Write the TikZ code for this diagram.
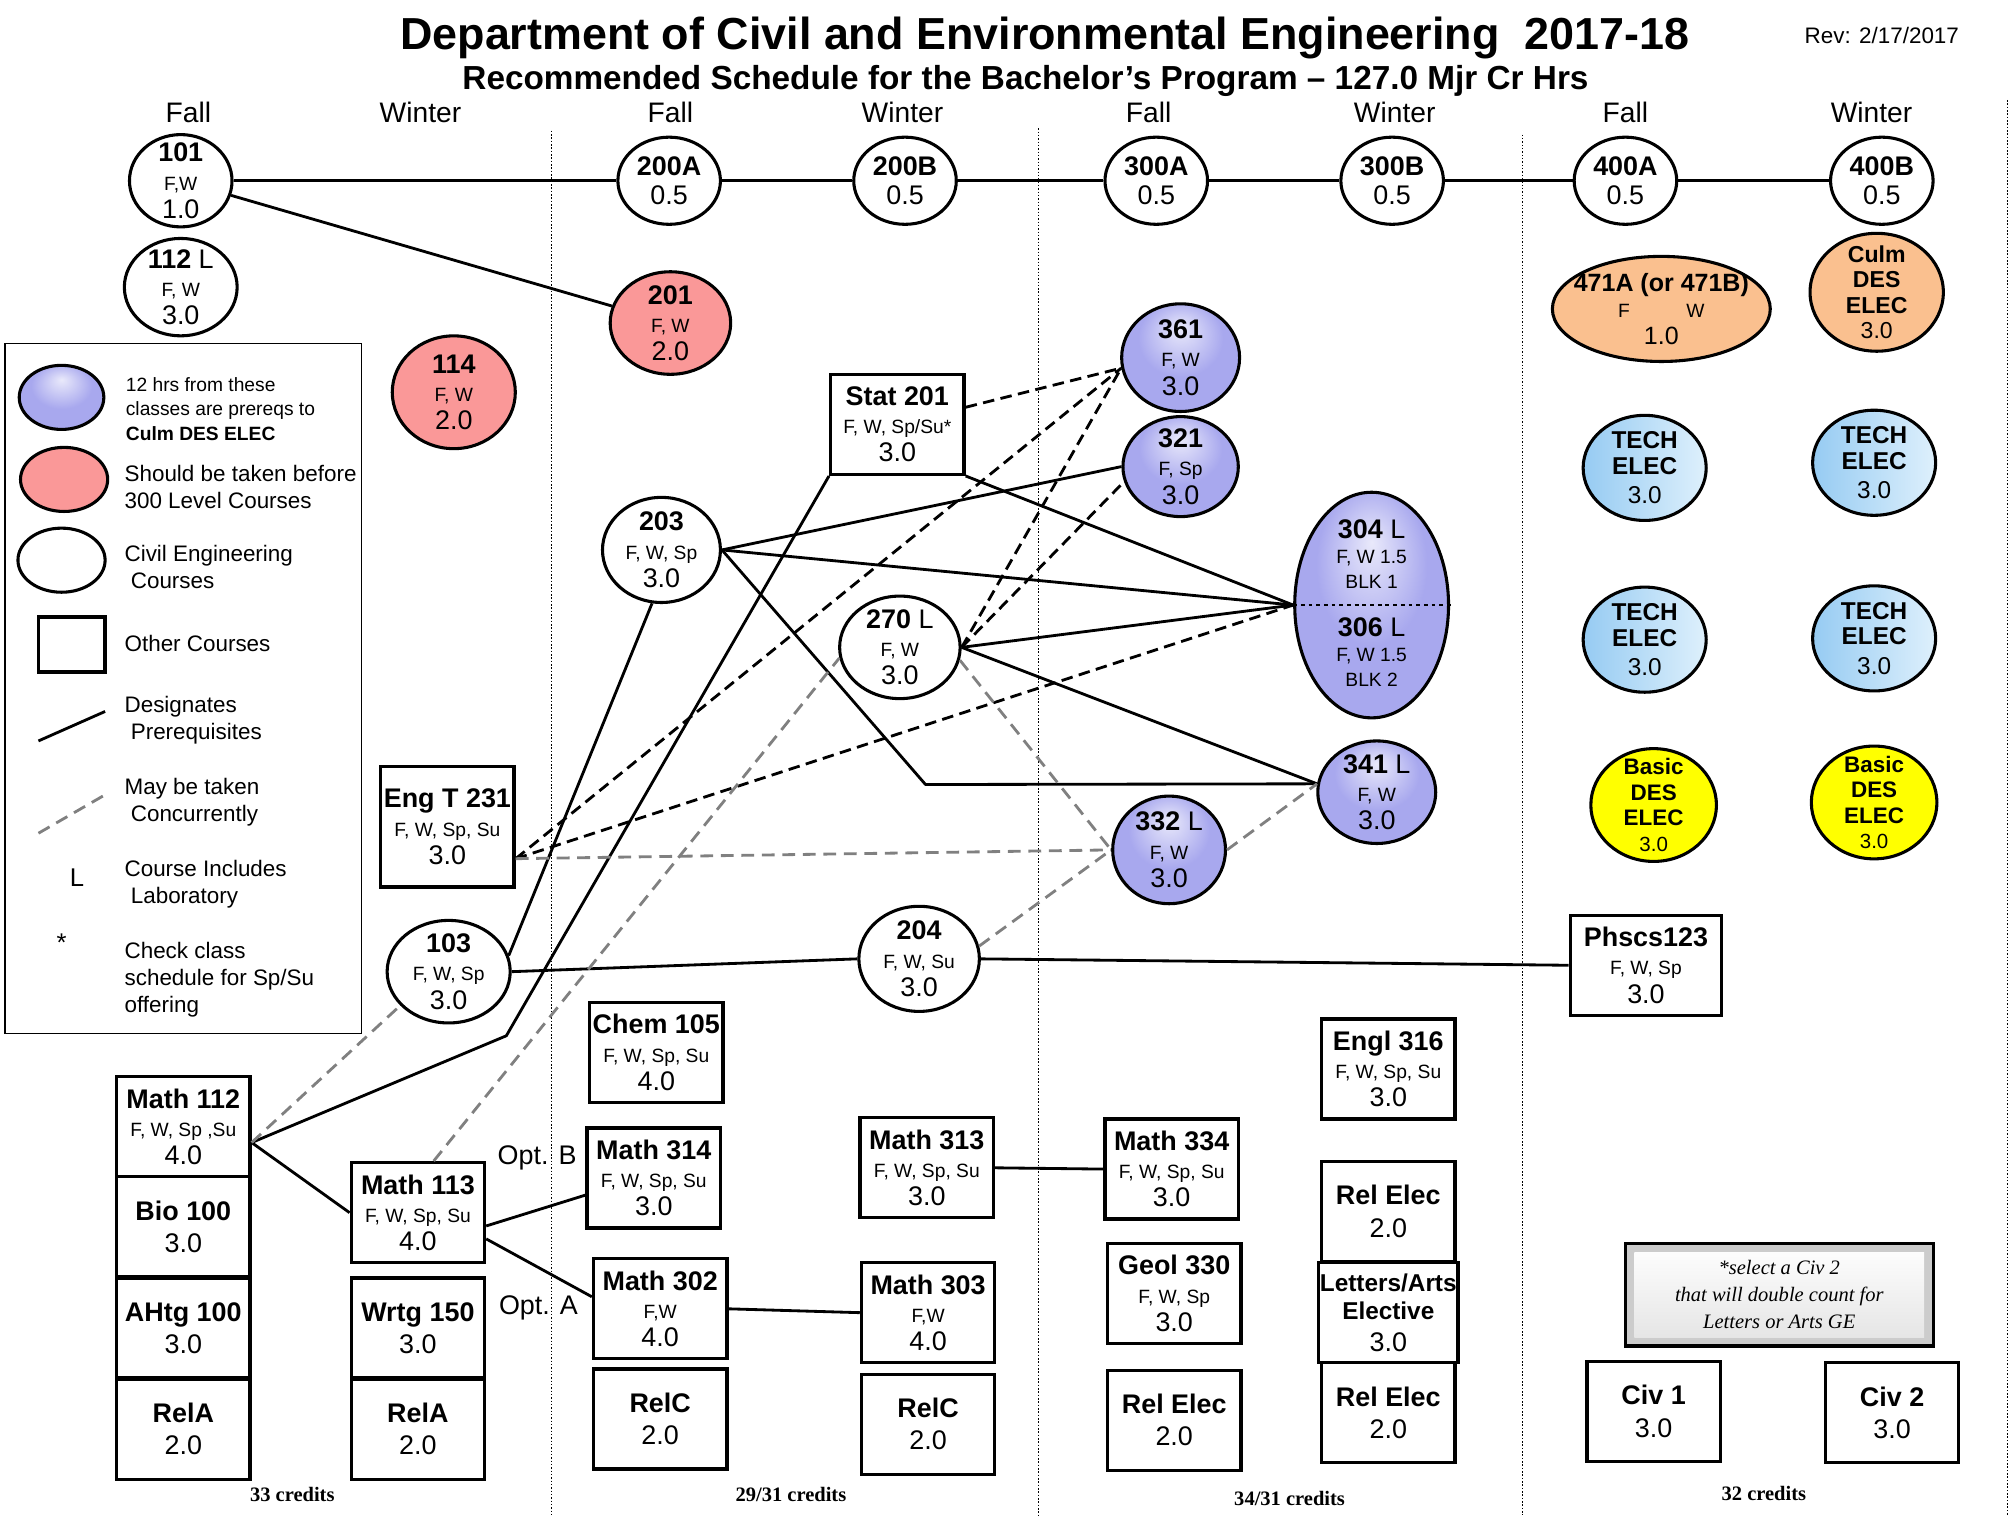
\documentclass[tikz,border=0pt]{standalone}
\usepackage{fontspec}
\setmainfont{Liberation Sans}
\newfontfamily\notefont{Liberation Serif}
\usetikzlibrary{shapes.geometric}

\definecolor{cepink}{RGB}{250,152,152}
\definecolor{ceorange}{RGB}{250,192,143}
\definecolor{cepurple}{RGB}{168,168,238}
\definecolor{cebluedark}{RGB}{150,203,242}
\definecolor{ceblueleft}{RGB}{222,240,252}
\definecolor{ceyellow}{RGB}{255,255,0}
\definecolor{concgray}{RGB}{128,128,128}
\pgfdeclareradialshading{purpleball}{\pgfpoint{0bp}{14bp}}{color(0bp)=(cepurple!25!white); color(18bp)=(cepurple); color(40bp)=(cepurple); color(50bp)=(cepurple!70!black)}

\newcommand{\dayfont}{\fontsize{15}{22}\selectfont}
\newcommand{\crs}[3]{\textbf{#1}\\{\dayfont #2}\\#3}

\tikzstyle{course}=[ellipse, draw, line width=2.4pt, fill=white, inner sep=0pt]
\tikzstyle{pink course}=[course, fill=cepink]
\tikzstyle{orange course}=[course, fill=ceorange]
\tikzstyle{purple course}=[course, shade, shading=purpleball]
\tikzstyle{blue course}=[course, left color=cebluedark, right color=ceblueleft]
\tikzstyle{yellow course}=[course, fill=ceyellow]
\tikzstyle{ctext}=[font=\fontsize{21}{22}\selectfont, align=center, inner sep=0pt]
\tikzstyle{other course}=[rectangle, draw, line width=2.6pt, fill=white, align=center, font=\fontsize{21}{22}\selectfont, inner sep=1pt, minimum width=104pt, minimum height=78pt]
\tikzstyle{note box}=[rectangle, draw, line width=2.5pt, fill=gray!40, minimum width=240pt, minimum height=80pt, align=center, font=\notefont\itshape\fontsize{16}{21}\selectfont, path picture={\shade[top color=white, bottom color=gray!22] ([shift={(7pt,-7pt)}]path picture bounding box.north west) rectangle ([shift={(-7pt,7pt)}]path picture bounding box.south east);}]
\tikzstyle{prereq}=[draw, line width=2.2pt, line join=round]
\tikzstyle{prereq dashed}=[prereq, dash pattern=on 9pt off 5pt]
\tikzstyle{concurrent}=[draw, line width=2.2pt, concgray, dash pattern=on 10pt off 6pt]
\tikzstyle{column line}=[draw, line width=0.9pt, dash pattern=on 1.2pt off 1.4pt]
\tikzstyle{term}=[font=\fontsize{22}{24}\selectfont, inner sep=0pt]
\tikzstyle{legend text}=[anchor=west, align=left, font=\fontsize{17.5}{21}\selectfont, inner sep=0pt]
\tikzstyle{credits}=[font=\notefont\bfseries\fontsize{16}{18}\selectfont, inner sep=0pt]

\begin{document}
\begin{tikzpicture}[x=1pt, y=-1pt]
	\useasboundingbox (0,0) rectangle (1568,1182);
	% year columns
	\foreach \x/\top in {430/102, 810/100, 1188/105, 1566/78}
		\path[column line] (\x,\top) -- (\x,1182);

	% headings
	\node[font=\bfseries\fontsize{35}{37}\selectfont] (title) at (815,30) {Department of Civil and Environmental Engineering\ \ 2017-18};
	\node[font=\bfseries\fontsize{26}{28}\selectfont] (subtitle) at (800,63) {Recommended Schedule for the Bachelor’s Program – 127.0 Mjr Cr Hrs};
	\node[font=\fontsize{17.5}{20}\selectfont] (rev) at (1468,28) {Rev: 2/17/2017};
	\foreach \x/\term in {147/Fall, 328/Winter, 523/Fall, 704/Winter, 896/Fall, 1088/Winter, 1268/Fall, 1460/Winter}
		\node[term] (h\x) at (\x,88) {\term};

	% legend
	\node[draw, line width=1pt, minimum width=278pt, minimum height=538pt] (legend) at (143,537) {};
	\node[purple course, minimum width=66pt, minimum height=50pt] (lgpurple) at (48,310) {};
	\node[legend text, font=\fontsize{15}{19}\selectfont] (lgpurpletext) at (98,319) {12 hrs from these\\classes are prereqs to\\\textbf{Culm DES ELEC}};
	\node[pink course, minimum width=68pt, minimum height=50pt] (lgpink) at (50,374) {};
	\node[legend text] (lgpinktext) at (97,380) {Should be taken before\\300 Level Courses};
	\node[course, minimum width=68pt, minimum height=50pt] (lgwhite) at (48,437) {};
	\node[legend text] (lgwhitetext) at (97,442) {Civil Engineering\\\ Courses};
	\node[draw, line width=3pt, minimum width=52pt, minimum height=43pt] (lgbox) at (56,503) {};
	\node[legend text] (lgboxtext) at (97,502) {Other Courses};
	\coordinate (lgsa) at (30,578);
	\coordinate (lgsb) at (82,555);
	\path[prereq] (lgsa) -- (lgsb);
	\node[legend text] (lgsolidtext) at (97,562) {Designates\\\ Prerequisites};
	\coordinate (lgca) at (30,650);
	\coordinate (lgcb) at (82,620);
	\path[concurrent] (lgca) -- (lgcb);
	\node[legend text] (lgconctext) at (97,626) {May be taken\\\ Concurrently};
	\node[term, font=\fontsize{20}{22}\selectfont] (lgL) at (60,685) {L};
	\node[legend text] (lgLtext) at (97,690) {Course Includes\\\ Laboratory};
	\node[term, font=\fontsize{20}{22}\selectfont] (lgstar) at (48,735) {*};
	\node[legend text] (lgstartext) at (97,764) {Check class\\schedule for Sp/Su\\offering};

	% seminar row
	\node[course, minimum width=80pt, minimum height=72pt, label={[ctext]center:\crs{101}{F,W}{1.0}}] (c101) at (141,141) {};
	\node[course, minimum width=88pt, minimum height=76pt, label={[ctext]center:\crs{112 \mdseries L}{F, W}{3.0}}] (c112) at (141,224) {};
	\foreach \pos/\name/\code in {{(522,141)/c200A/200A}, {(706,141)/c200B/200B}, {(902,141)/c300A/300A}, {(1086,141)/c300B/300B}, {(1268,141)/c400A/400A}, {(1468,141)/c400B/400B}}
		\node[course, minimum width=80pt, minimum height=68pt, label={[ctext]center:\textbf{\code}\\0.5}] (\name) at \pos {};

	% civil engineering courses
	\node[pink course, minimum width=94pt, minimum height=80pt, label={[ctext]center:\crs{201}{F, W}{2.0}}] (c201) at (523,252) {};
	\node[pink course, minimum width=96pt, minimum height=88pt, label={[ctext]center:\crs{114}{F, W}{2.0}}] (c114) at (354,306) {};
	\node[course, minimum width=92pt, minimum height=82pt, label={[ctext]center:\crs{203}{F, W, Sp}{3.0}}] (c203) at (516,429) {};
	\node[course, minimum width=94pt, minimum height=80pt, label={[ctext]center:\crs{270 \mdseries L}{F, W}{3.0}}] (c270) at (702,505) {};
	\node[course, minimum width=96pt, minimum height=80pt, label={[ctext]center:\crs{103}{F, W, Sp}{3.0}}] (c103) at (350,758) {};
	\node[course, minimum width=94pt, minimum height=82pt, label={[ctext]center:\crs{204}{F, W, Su}{3.0}}] (c204) at (717,748) {};
	\node[purple course, minimum width=92pt, minimum height=84pt, label={[ctext]center:\crs{361}{F, W}{3.0}}] (c361) at (921,279) {};
	\node[purple course, minimum width=90pt, minimum height=78pt, label={[ctext]center:\crs{321}{F, Sp}{3.0}}] (c321) at (921,364) {};
	\node[purple course, minimum width=120pt, minimum height=176pt,
		label={[ctext, font=\fontsize{21}{19.5}\selectfont, yshift=40pt]center:\textbf{304} L\\{\dayfont F, W 1.5}\\{\dayfont BLK 1}},
		label={[ctext, font=\fontsize{21}{19.5}\selectfont, yshift=-37pt]center:\textbf{306} L\\{\dayfont F, W 1.5}\\{\dayfont BLK 2}}] (c304) at (1070,472) {};
	\draw[line width=1.4pt, dashed] (c304.west) -- ([xshift=3pt]c304.east);
	\node[purple course, minimum width=92pt, minimum height=80pt, label={[ctext]center:\crs{341 \mdseries L}{F, W}{3.0}}] (c341) at (1074,618) {};
	\node[purple course, minimum width=88pt, minimum height=84pt, label={[ctext]center:\crs{332 \mdseries L}{F, W}{3.0}}] (c332) at (912,663) {};

	% senior year
	\node[orange course, minimum width=170pt, minimum height=82pt, label={[ctext, font=\fontsize{19.5}{20.5}\selectfont]center:\textbf{471A (or 471B)}\\{\dayfont F\hspace{44pt}W}\\1.0}] (c471) at (1296,241) {};
	\node[orange course, minimum width=104pt, minimum height=92pt, label={[ctext, font=\fontsize{18}{20}\selectfont]center:\textbf{Culm}\\\textbf{DES}\\\textbf{ELEC}\\3.0}] (culm) at (1464,228) {};
	\foreach \pos/\name in {{(1283,365)/tech1}, {(1462,361)/tech2}, {(1283,499)/tech3}, {(1462,498)/tech4}}
		\node[blue course, minimum width=96pt, minimum height=82pt, label={[ctext, font=\fontsize{19}{20}\selectfont]center:\textbf{TECH}\\\textbf{ELEC}\\[3pt]3.0}] (\name) at \pos {};
	\foreach \pos/\name in {{(1290,628)/basic1}, {(1462,626)/basic2}}
		\node[yellow course, minimum width=98pt, minimum height=88pt, label={[ctext, font=\fontsize{17.5}{20}\selectfont]center:\textbf{Basic}\\\textbf{DES}\\\textbf{ELEC}\\{\fontsize{16}{20}\selectfont 3.0}}] (\name) at \pos {};

	% other courses
	\foreach \pos/\name/\title/\days/\cred in {{(700,331)/stat201/Stat 201/{F, W, Sp/Su*}/3.0}, {(512,821)/chem105/Chem 105/{F, W, Sp, Su}/4.0}, {(510,919)/math314/Math 314/{F, W, Sp, Su}/3.0}, {(515,1021)/math302/Math 302/{F,W}/4.0}, {(723,911)/math313/Math 313/{F, W, Sp, Su}/3.0}, {(724,1024)/math303/Math 303/{F,W}/4.0}, {(914,912)/math334/Math 334/{F, W, Sp, Su}/3.0}, {(916,1009)/geol330/Geol 330/{F, W, Sp}/3.0}, {(1083,834)/engl316/Engl 316/{F, W, Sp, Su}/3.0}, {(143,879)/math112/Math 112/{F, W, Sp ,Su}/4.0}, {(326,946)/math113/Math 113/{F, W, Sp, Su}/4.0}}
		\node[other course] (\name) at \pos {\textbf{\title}\\{\dayfont \days}\\\cred};
	\node[other course, minimum height=94pt] (engt231) at (349,645) {\textbf{Eng T 231}\\{\dayfont F, W, Sp, Su}\\3.0};
	\node[other course, minimum width=118pt] (phscs) at (1284,753) {\textbf{Phscs123}\\{\dayfont F, W, Sp}\\3.0};
	\foreach \pos/\name/\title/\cred in {{(143,957)/bio100/Bio 100/3.0}, {(143,1036)/ahtg100/AHtg 100/3.0}, {(143,1115)/rela1/RelA/2.0}, {(326,1036)/wrtg150/Wrtg 150/3.0}, {(326,1115)/rela2/RelA/2.0}, {(515,1107)/relc1/RelC/2.0}, {(724,1111)/relc2/RelC/2.0}, {(916,1108)/relel1/Rel Elec/2.0}, {(1083,945)/relel2/Rel Elec/2.0}, {(1083,1102)/relel3/Rel Elec/2.0}, {(1290,1101)/civ1/Civ 1/3.0}, {(1476,1102)/civ2/Civ 2/3.0}}
		\node[other course] (\name) at \pos {\textbf{\title}\\[3pt]\cred};
	\node[other course, minimum width=106pt] (letters) at (1083,1024) {{\fontsize{19}{22}\selectfont\textbf{Letters/Arts}}\\{\fontsize{19}{22}\selectfont\textbf{Elective}}\\[3pt]3.0};
	\node[note box] (note) at (1388,1010) {*select a Civ 2\\that will double count for\\Letters or Arts GE};
	\node[ctext] (optb) at (419,903) {Opt. B};
	\node[ctext] (opta) at (420,1020) {Opt. A};
	\foreach \x/\y/\txt in {228/1166/33 credits, 617/1166/29\slash 31 credits, 1006/1169/34\slash 31 credits, 1376/1165/32 credits}
		\node[credits] (cr\x) at (\x,\y) {\txt};

	% prerequisites
	\path[prereq] (c101) -- (c200A) -- (c200B) -- (c300A) -- (c300B) -- (c400A) -- (c400B);
	\path[prereq] (c101) -- (c201);
	\foreach \dest in {c321.west, c304.west}
		\path[prereq] (c203.east) -- (\dest);
	\coordinate (k341) at (722,612);
	\path[prereq] (c203.east) -- (k341) -- (c341.172);
	\path[prereq] (stat201.south east) -- (c304.west);
	\path[prereq] (c270.east) -- (c304.west);
	\path[prereq] (c270.east) -- (c341.172);
	\coordinate (kstat) at (395,808);
	\path[prereq] (math112.-13) -- (kstat) -- (stat201.south west);
	\path[prereq] (c103.15) -- (c203.-100);
	\path[prereq] (c103.east) -- (c204.west);
	\path[prereq] (c204.east) -- (phscs.west);
	\path[prereq] (math112.-13) -- (math113.west);
	\path[prereq] (math113.-11) -- (math314.194);
	\path[prereq] (math113.-21) -- (math302.170);
	\path[prereq] (math302.east) -- (math303.west);
	\path[prereq] (math313.east) -- (math334.west);
	\path[prereq dashed] (stat201.14) -- (c361.190);
	\path[prereq dashed] (engt231.-25) -- (c361.190);
	\path[prereq dashed] (engt231.-25) -- (c304.west);
	\path[prereq dashed] (c270.east) -- (c361.190);
	\path[prereq dashed] (c270.east) -- (c321.195);

	% concurrent
	\foreach \source in {engt231.-25, c270.-12, c204.12}
		\path[concurrent] (\source) -- (c332.west);
	\path[concurrent] (c332.east) -- (c341.172);
	\path[concurrent] (math112.-13) -- (c103.215);
	\path[concurrent] (math113.73) -- (c270.190);
\end{tikzpicture}
\end{document}
